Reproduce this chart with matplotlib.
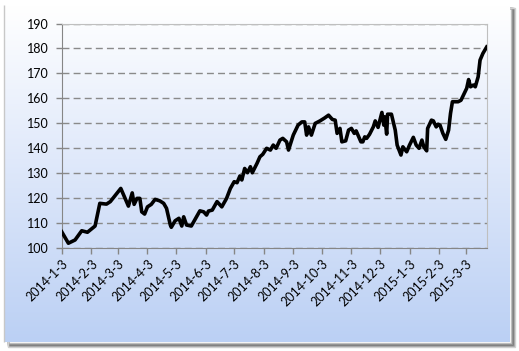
import numpy as np
import pandas as pd
import matplotlib
matplotlib.use('Agg')
import matplotlib.pyplot as plt
from matplotlib.patches import Rectangle
from matplotlib.colors import LinearSegmentedColormap

plt.rcParams['font.family'] = ['Lato', 'DejaVu Sans']

# values
dates = [
    '2014-01-03', '2014-01-10', '2014-01-17', '2014-01-24', '2014-01-30',
    '2014-02-07', '2014-02-12', '2014-02-19', '2014-02-23', '2014-03-06',
    '2014-03-14', '2014-03-18', '2014-03-20', '2014-03-23', '2014-03-26',
    '2014-03-28', '2014-03-31', '2014-04-03', '2014-04-07', '2014-04-11',
    '2014-04-16', '2014-04-20', '2014-04-23', '2014-04-27', '2014-04-28',
    '2014-05-02', '2014-05-06', '2014-05-09', '2014-05-11', '2014-05-14',
    '2014-05-19', '2014-05-28', '2014-06-01', '2014-06-04', '2014-06-06',
    '2014-06-10', '2014-06-15', '2014-06-20', '2014-06-25', '2014-06-29',
    '2014-07-03', '2014-07-06', '2014-07-09', '2014-07-11', '2014-07-14',
    '2014-07-17', '2014-07-20', '2014-07-22', '2014-07-27', '2014-07-30',
    '2014-08-02', '2014-08-06', '2014-08-10', '2014-08-13', '2014-08-16',
    '2014-08-20', '2014-08-23', '2014-08-27', '2014-08-29', '2014-09-03',
    '2014-09-08', '2014-09-12', '2014-09-15', '2014-09-17', '2014-09-19',
    '2014-09-22', '2014-09-26', '2014-10-01', '2014-10-06', '2014-10-10',
    '2014-10-14', '2014-10-17', '2014-10-19', '2014-10-22', '2014-10-24',
    '2014-10-28', '2014-10-31', '2014-11-03', '2014-11-06', '2014-11-08',
    '2014-11-13', '2014-11-15', '2014-11-17', '2014-11-19', '2014-11-22',
    '2014-11-26', '2014-11-28', '2014-12-01', '2014-12-05', '2014-12-07',
    '2014-12-08', '2014-12-10', '2014-12-11', '2014-12-15', '2014-12-19',
    '2014-12-21', '2014-12-25', '2014-12-27', '2014-12-31', '2015-01-03',
    '2015-01-07', '2015-01-10', '2015-01-13', '2015-01-16', '2015-01-18',
    '2015-01-21', '2015-01-22', '2015-01-26', '2015-01-28', '2015-01-31',
    '2015-02-02', '2015-02-04', '2015-02-07', '2015-02-10', '2015-02-13',
    '2015-02-15', '2015-02-17', '2015-02-23', '2015-02-26', '2015-03-02',
    '2015-03-04', '2015-03-06', '2015-03-08', '2015-03-11', '2015-03-13',
    '2015-03-16', '2015-03-18', '2015-03-21', '2015-03-25',
]
values = [
    106.4, 101.8, 103.1, 106.8, 106.2, 108.7, 117.8, 117.5, 118.5, 123.8,
    116.7, 122.0, 117.4, 119.8, 119.8, 114.4, 113.5, 116.4, 117.4, 119.4,
    118.8, 117.8, 115.8, 109.1, 108.2, 110.8, 111.8, 108.7, 112.4, 109.1,
    108.7, 114.8, 114.4, 113.1, 114.7, 115.1, 118.5, 116.4, 119.8, 123.8,
    126.5, 126.1, 128.8, 127.2, 131.8, 130.1, 132.5, 130.1, 133.9, 136.5,
    137.5, 139.9, 139.2, 141.2, 139.9, 143.2, 143.9, 142.5, 139.2, 145.2,
    149.2, 150.5, 150.5, 145.2, 148.5, 145.2, 149.9, 150.9, 152.1, 153.2,
    151.5, 151.2, 145.9, 147.9, 142.5, 142.9, 147.2, 147.9, 145.9, 146.9,
    142.5, 142.5, 144.5, 143.9, 145.5, 148.5, 150.9, 148.3, 154.3, 149.2,
    152.5, 145.6, 153.6, 153.6, 147.2, 141.2, 137.2, 140.5, 138.5, 141.2,
    144.3, 141.2, 139.9, 143.2, 140.5, 138.9, 147.9, 151.2, 150.9, 148.5,
    149.6, 149.2, 145.9, 143.5, 147.2, 153.9, 158.6, 158.6, 159.2, 162.4,
    164.0, 167.5, 164.6, 165.3, 164.6, 168.6, 175.3, 178.0, 180.6,
]
tick_dates = pd.date_range('2014-01-01', '2015-03-01', freq='MS') + pd.Timedelta(days=2)
tick_labels = [f'{d.year}-{d.month}-{d.day}' for d in tick_dates]

x = pd.to_datetime(dates)

fig = plt.figure(figsize=(5.19, 3.51), dpi=100)
fig.patch.set_facecolor('white')

# background: gradient box with a shadow at right/bottom
bg = fig.add_axes([0, 0, 1, 1], zorder=0)
bg.set_xlim(0, 519)
bg.set_ylim(351, 0)
bg.axis('off')
for i, c in enumerate(['#c8c8c8', '#9a9a9a', '#7a7a7a', '#a0a0a0', '#d0d0d0']):
    bg.add_patch(Rectangle((8, 8), 503 + i, 335 + i, facecolor='none',
                           edgecolor=c, lw=1))
cmap = LinearSegmentedColormap.from_list('bg', ['#ffffff', '#dde7fa', '#bbd0f4'])
grad = np.linspace(0, 1, 256).reshape(-1, 1)
bg.imshow(grad, cmap=cmap, aspect='auto', extent=(4, 510, 342, 5), zorder=1)
bg.add_patch(Rectangle((3.5, 5), 0, 337, edgecolor='#c8c8c8', lw=1, zorder=2))

ax = fig.add_axes([0.1189, 0.2943, 0.8189, 0.6387], zorder=1)
ax.patch.set_alpha(0)
ax.plot(x, values, color='black', lw=2.6, solid_joinstyle='round', zorder=3)

ax.set_ylim(100, 190)
ax.set_yticks(range(100, 191, 10))
ax.set_xlim(pd.Timestamp('2014-01-03'), pd.Timestamp('2015-03-25'))
ax.set_xticks(tick_dates)
ax.set_xticklabels(tick_labels, rotation=45, ha='right', rotation_mode='anchor')
ax.yaxis.grid(True, color='#8a8a8a', ls=(0, (5, 3)), lw=1)
ax.set_axisbelow(True)

for s in ['left', 'bottom']:
    ax.spines[s].set_color('#868686')
for s in ['top', 'right']:
    ax.spines[s].set_color('#bfbfbf')
ax.tick_params(axis='both', colors='#868686', labelcolor='black',
               labelsize=9, length=4, width=1, direction='out')
ax.tick_params(axis='y', pad=5)
ax.tick_params(axis='x', pad=3)

fig.savefig('out.png', dpi=100)
